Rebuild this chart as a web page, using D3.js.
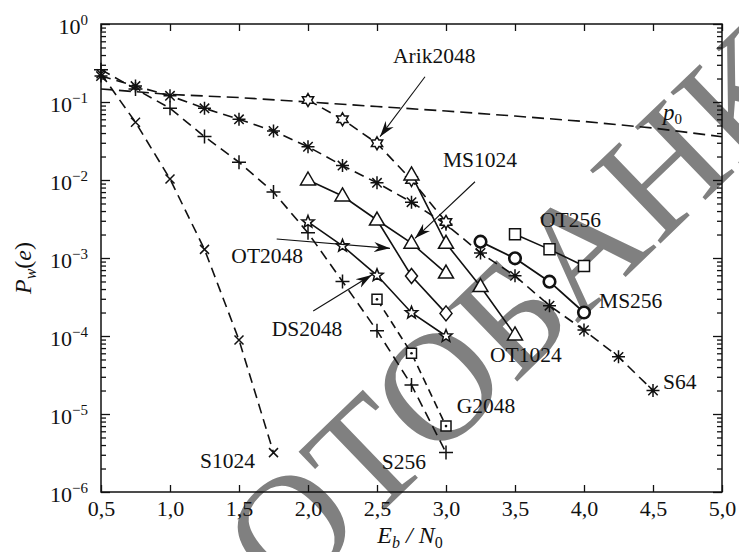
<!DOCTYPE html>
<html>
<head>
<meta charset="utf-8">
<script src="https://cdn.jsdelivr.net/npm/d3@7"></script>
<style>
  body { margin: 0; background: #fff; }
  svg { display: block; font-family: "Liberation Serif", "Times New Roman", serif; }
</style>
</head>
<body>
<svg id="chart" width="739" height="552"></svg>
<script>
// ---- data ----
const xTicks = [0.5, 1.0, 1.5, 2.0, 2.5, 3.0, 3.5, 4.0, 4.5, 5.0];
const yMajor = [1e-6, 1e-5, 1e-4, 1e-3, 1e-2, 1e-1, 1];

const p0X = [0.5, 1.0, 1.5, 2.0, 2.5, 3.0, 3.5, 4.0, 4.5, 5.0];
const p0Y = [0.147, 0.125, 0.114, 0.1, 0.0875, 0.0767, 0.066, 0.0563, 0.0464, 0.0359];

const s1024X = [0.5, 0.75, 1.0, 1.25, 1.5, 1.75];
const s1024Y = [0.23, 0.055, 0.0103, 0.00129, 8.9e-5, 3.2e-6];

const s256X = [0.5, 0.75, 1.0, 1.25, 1.5, 1.75, 2.0, 2.25, 2.5, 2.75, 3.0];
const s256Y = [0.26, 0.147, 0.083, 0.036, 0.0169, 0.007, 0.0021, 0.0005, 0.000117, 2.35e-5, 3.2e-6];

const s64X = [0.5, 0.75, 1.0, 1.25, 1.5, 1.75, 2.0, 2.25, 2.5, 2.75, 3.0, 3.25, 3.5, 3.75, 4.0, 4.25, 4.5];
const s64Y = [0.215, 0.16, 0.12, 0.083, 0.06, 0.0425, 0.0267, 0.0153, 0.0092, 0.0052, 0.0027,
              0.00116, 0.00059, 0.000245, 0.000119, 5.4e-5, 2.0e-5];

const arikX = [2.0, 2.25, 2.5, 2.75, 3.0];
const arikY = [0.106, 0.06, 0.0295, 0.01, 0.0029];

const ms1024X = [2.0, 2.25, 2.5, 2.75, 3.0];
const ms1024Y = [0.01, 0.00624, 0.00307, 0.00155, 0.00064];

const ot1024X = [2.75, 3.0, 3.25, 3.5];
const ot1024Y = [0.0116, 0.00154, 0.00043, 0.000103];

const ot2048X = [2.5, 2.75, 3.0];
const ot2048Y = [0.00307, 0.000588, 0.000195];

const ds2048X = [2.0, 2.25, 2.5, 2.75, 3.0];
const ds2048Y = [0.0029, 0.00143, 0.0006, 0.000199, 0.0001];

const g2048X = [2.5, 2.75, 3.0];
const g2048Y = [0.000295, 6.0e-5, 7.0e-6];

const ot256X = [3.5, 3.75, 4.0];
const ot256Y = [0.00201, 0.00129, 0.00079];

const ms256X = [3.25, 3.5, 3.75, 4.0];
const ms256Y = [0.00162, 0.00099, 0.000497, 0.0002];

// ---- layout ----
const W = 739, H = 552;
const margin = { top: 24, right: 17, bottom: 60, left: 101 };
const iw = W - margin.left - margin.right;
const ih = H - margin.top - margin.bottom;

const svg = d3.select("#chart");

// stock-photo watermark under the plot
svg.append("text")
  .attr("transform", "translate(469,357) rotate(-44)")
  .attr("text-anchor", "middle")
  .attr("dy", "0.33em")
  .style("font-size", "155px")
  .style("fill", "#808080")
  .text("ФОТОБАНК");

const g = svg.append("g").attr("transform", `translate(${margin.left},${margin.top})`);

const x = d3.scaleLinear().domain([0.5, 5]).range([0, iw]);
const y = d3.scaleLog().domain([1e-6, 1]).range([ih, 0]);

// markers
function starPath(n, ro, ri) {
  const pts = [];
  for (let i = 0; i < 2 * n; i++) {
    const r = i % 2 ? ri : ro;
    const a = -Math.PI / 2 + i * Math.PI / n;
    pts.push([r * Math.cos(a), r * Math.sin(a)]);
  }
  return "M" + pts.map(p => p[0].toFixed(2) + "," + p[1].toFixed(2)).join("L") + "Z";
}

const markers = {
  cross: "M-4.5,-4.5L4.5,4.5M-4.5,4.5L4.5,-4.5",
  plus: "M-7,0H7M0,-7V7",
  aster: "M-6.5,0H6.5M0,-6.5V6.5M-4.7,-4.7L4.7,4.7M-4.7,4.7L4.7,-4.7",
  hexa: starPath(6, 6.5, 3.75),
  star: starPath(5, 6.5, 2.8),
  tri: "M0,-8L7.5,5H-7.5Z",
  diam: "M0,-7.5L6,0L0,7.5L-6,0Z",
  sq: "M-5.5,-5.5H5.5V5.5H-5.5Z",
  sqdot: "M-5,-5H5V5H-5Z",
  circ: d3.symbol(d3.symbolCircle, 105)()
};

const series = [
  { xs: p0X, ys: p0Y, dash: "12,6", marker: null },
  { xs: s1024X, ys: s1024Y, dash: "10,6", marker: "cross" },
  { xs: s256X, ys: s256Y, dash: "10,6", marker: "plus" },
  { xs: s64X, ys: s64Y, dash: "10,6", marker: "aster" },
  { xs: arikX, ys: arikY, dash: "10,6", marker: "hexa" },
  { xs: g2048X, ys: g2048Y, dash: "8,5", marker: "sqdot" },
  { xs: ms1024X, ys: ms1024Y, dash: null, marker: "tri" },
  { xs: ot1024X, ys: ot1024Y, dash: null, marker: "tri" },
  { xs: ot2048X, ys: ot2048Y, dash: null, marker: "diam", skipFirst: true },
  { xs: ds2048X, ys: ds2048Y, dash: null, marker: "star" },
  { xs: ot256X, ys: ot256Y, dash: null, marker: "sq" },
  { xs: ms256X, ys: ms256Y, dash: null, marker: "circ", thick: true }
];

const line = d3.line().x(d => x(d[0])).y(d => y(d[1]));

series.forEach(s => {
  const pts = s.xs.map((v, i) => [v, s.ys[i]]);
  g.append("path")
    .datum(pts)
    .attr("d", line)
    .attr("fill", "none")
    .attr("stroke", "#111")
    .attr("stroke-width", s.thick ? 1.8 : 1.6)
    .attr("stroke-dasharray", s.dash);
});

series.forEach(s => {
  if (!s.marker) return;
  const pts = s.xs.map((v, i) => [v, s.ys[i]]).slice(s.skipFirst ? 1 : 0);
  const open = ["cross", "plus", "aster"].includes(s.marker);
  const m = g.append("g").selectAll("g")
    .data(pts)
    .join("g")
    .attr("transform", d => `translate(${x(d[0])},${y(d[1])})`);
  m.append("path")
    .attr("d", markers[s.marker])
    .attr("fill", open ? "none" : "#fff")
    .attr("stroke", "#111")
    .attr("stroke-width", s.marker === "circ" ? 2.6 : 1.5);
  if (s.marker === "sqdot") {
    m.append("circle").attr("r", 1.3).attr("fill", "#111");
  }
});

// axes
const minor = [];
for (let e = -6; e < 0; e++) {
  for (let k = 2; k <= 9; k++) minor.push(k * Math.pow(10, e));
}

const fmtX = d => d3.format(".1f")(d).replace(".", ",");

g.append("g")
  .attr("transform", `translate(0,${ih})`)
  .call(d3.axisBottom(x).tickValues(xTicks).tickSizeInner(-7).tickSizeOuter(0).tickPadding(8).tickFormat(fmtX));

g.append("g")
  .call(d3.axisTop(x).tickValues(xTicks).tickSizeInner(-7).tickSizeOuter(0).tickFormat(""));

g.append("g")
  .call(d3.axisLeft(y).tickValues(yMajor).tickSizeInner(-9).tickSizeOuter(0).tickFormat(""));
g.append("g")
  .call(d3.axisLeft(y).tickValues(minor).tickSizeInner(-5).tickSizeOuter(0).tickFormat(""));

g.append("g")
  .attr("transform", `translate(${iw},0)`)
  .call(d3.axisRight(y).tickValues(yMajor).tickSizeInner(-9).tickSizeOuter(0).tickFormat(""));
g.append("g")
  .attr("transform", `translate(${iw},0)`)
  .call(d3.axisRight(y).tickValues(minor).tickSizeInner(-5).tickSizeOuter(0).tickFormat(""));

g.selectAll(".domain").remove();
g.selectAll(".tick line").attr("stroke", "#111").attr("stroke-width", 1.3);
g.selectAll(".tick text")
  .style("font-family", "'Liberation Serif', serif")
  .style("font-size", "22px")
  .attr("fill", "#111");

g.append("rect")
  .attr("width", iw).attr("height", ih)
  .attr("fill", "none").attr("stroke", "#111").attr("stroke-width", 1.5);

// y tick labels 10^n
const ylab = g.append("g").selectAll("text")
  .data(yMajor)
  .join("text")
  .attr("x", -13)
  .attr("y", d => y(d) + 10)
  .attr("text-anchor", "end")
  .style("font-size", "22px")
  .attr("fill", "#111");
ylab.append("tspan").text("10");
ylab.append("tspan")
  .attr("dy", "-0.62em")
  .style("font-size", "15px")
  .text(d => {
    const e = Math.round(Math.log10(d));
    return e < 0 ? "\u2212" + (-e) : String(e);
  });

// axis titles
const xt = svg.append("text")
  .attr("x", 410).attr("y", 543)
  .attr("text-anchor", "middle")
  .style("font-size", "24px")
  .attr("fill", "#111");
xt.append("tspan").style("font-style", "italic").text("E");
xt.append("tspan").style("font-style", "italic").style("font-size", "16px").attr("dy", "0.3em").text("b");
xt.append("tspan").style("font-style", "italic").attr("dy", "-0.2em").text(" / N");
xt.append("tspan").style("font-size", "16px").attr("dy", "0.3em").text("0");

const yt = svg.append("text")
  .attr("transform", "translate(31,268) rotate(-90)")
  .attr("text-anchor", "middle")
  .style("font-size", "24px")
  .attr("fill", "#111");
yt.append("tspan").style("font-style", "italic").text("P");
yt.append("tspan").style("font-style", "italic").style("font-size", "16px").attr("dy", "0.3em").text("w");
yt.append("tspan").attr("dy", "-0.2em").text("(");
yt.append("tspan").style("font-style", "italic").text("e");
yt.append("tspan").text(")");

// curve labels and arrows (positions in data units)
svg.append("defs").append("marker")
  .attr("id", "head")
  .attr("viewBox", "-16 -6 18 12")
  .attr("markerUnits", "userSpaceOnUse")
  .attr("markerWidth", 18).attr("markerHeight", 12)
  .attr("refX", 0).attr("refY", 0)
  .attr("orient", "auto")
  .append("path")
  .attr("d", "M0,0L-16,-5L-11,0L-16,5Z")
  .attr("fill", "#111");

const labels = [
  { t: "Arik2048", x: 2.616, y: 0.316 },
  { t: "MS1024", x: 2.978, y: 0.0147 },
  { t: "OT256", x: 3.681, y: 0.00252 },
  { t: "MS256", x: 4.109, y: 0.000229 },
  { t: "OT1024", x: 3.319, y: 4.69e-5 },
  { t: "S64", x: 4.572, y: 2.07e-5 },
  { t: "OT2048", x: 1.964, y: 8.55e-4, end: true },
  { t: "DS2048", x: 1.737, y: 1e-4 },
  { t: "G2048", x: 3.078, y: 1.02e-5 },
  { t: "S256", x: 2.534, y: 1.97e-6 },
  { t: "S1024", x: 1.217, y: 2.01e-6 }
];

g.append("g").selectAll("text")
  .data(labels)
  .join("text")
  .attr("x", d => x(d.x))
  .attr("y", d => y(d.y))
  .attr("text-anchor", d => d.end ? "end" : "start")
  .style("font-size", "21.5px")
  .attr("fill", "#111")
  .text(d => d.t);

const p0lab = g.append("text")
  .attr("x", x(4.572)).attr("y", y(0.0588))
  .style("font-size", "23px")
  .attr("fill", "#111");
p0lab.append("tspan").style("font-style", "italic").text("p");
p0lab.append("tspan").style("font-size", "15px").attr("dy", "0.3em").text("0");

const arrows = [
  { x1: 2.848, y1: 0.211, x2: 2.522, y2: 0.0359 },
  { x1: 3.21, y1: 0.0095, x2: 2.775, y2: 0.00179 },
  { x1: 1.773, y1: 0.00175, x2: 2.594, y2: 0.00133 },
  { x1: 2.038, y1: 2.09e-4, x2: 2.462, y2: 6.05e-4 }
];

g.append("g").selectAll("line")
  .data(arrows)
  .join("line")
  .attr("x1", d => x(d.x1)).attr("y1", d => y(d.y1))
  .attr("x2", d => x(d.x2)).attr("y2", d => y(d.y2))
  .attr("stroke", "#111")
  .attr("stroke-width", 1.1)
  .attr("marker-end", "url(#head)");
</script>
</body>
</html>
